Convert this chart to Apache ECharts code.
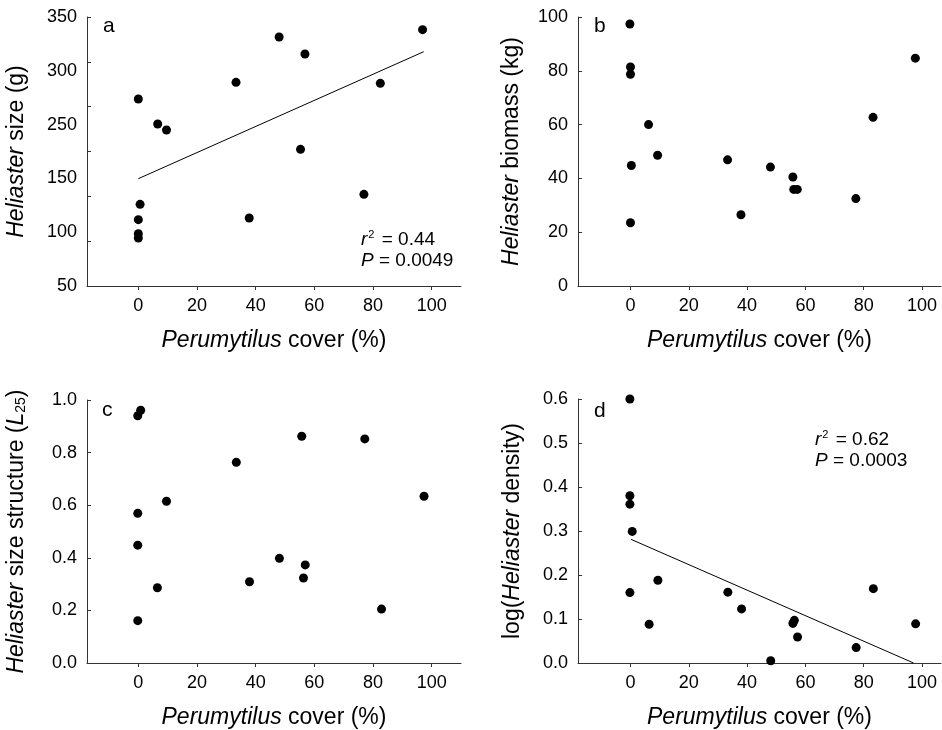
<!DOCTYPE html>
<html>
<head>
<meta charset="utf-8">
<script src="https://cdn.jsdelivr.net/npm/echarts@6/dist/echarts.min.js"></script>
<style>
  html, body { margin: 0; padding: 0; background: #fff; }
  #chart { width: 942px; height: 730px; }
</style>
</head>
<body>
<div id="chart"></div>
<script>
// x values, Perumytilus cover (%)
const coverA = [0, 0, 0, 0, 0.6, 6.6, 9.6, 33.3, 37.8, 48.0, 55.3, 56.8, 76.9, 82.5, 96.9];
const coverB = [-0.2, 0, 0, 0, 0.3, 6.2, 9.3, 33.3, 37.9, 48.0, 55.7, 56.0, 57.2, 77.3, 83.2, 97.7];
const coverC = [-0.2, -0.2, -0.2, -0.2, 0.8, 6.5, 9.6, 33.4, 37.9, 48.1, 55.7, 56.3, 56.9, 77.2, 82.9, 97.4];
const coverD = [-0.2, -0.2, -0.2, -0.2, 0.6, 6.4, 9.4, 33.4, 38.1, 48.1, 55.7, 56.2, 57.3, 77.4, 83.3, 97.8];

// y values
const sizeA = [258.6, 124, 108.4, 103.5, 141.1, 230.7, 224, 277.1, 125.8, 327.7, 202.4, 308.7, 152.2, 276, 335.9];
const biomassB = [97.4, 81.4, 78.7, 23.5, 44.8, 60.0, 48.6, 46.9, 26.5, 44.2, 40.5, 35.9, 35.9, 32.5, 62.7, 84.7];
const structC = [0.940, 0.569, 0.448, 0.161, 0.961, 0.286, 0.615, 0.763, 0.309, 0.398, 0.862, 0.323, 0.373, 0.852, 0.205, 0.634];
const densityD = [0.600, 0.380, 0.361, 0.160, 0.299, 0.088, 0.188, 0.161, 0.123, 0.005, 0.090, 0.097, 0.059, 0.035, 0.169, 0.089];

// regression lines (end points)
const fitA = [[0, 169.7], [97.3, 311.3]];
const fitD = [[0.2, 0.281], [97.1, 0.0]];

// tick labels
const xTicks = [0, 20, 40, 60, 80, 100];
const sizeLabelPos = [50, 110, 170, 230, 290, 350];
const sizeLabels = ['50', '100', '150', '250', '300', '350'];

const FONT = "'Liberation Sans', Arial, sans-serif";
const AXIS_COLOR = '#333';
const TITLE_SIZE = 23;
const TICK_SIZE = 18;

const chart = echarts.init(document.getElementById('chart'));

const grids = [
  { left: 87, right: 481, top: 17, bottom: 444 },
  { left: 578, right: 1, top: 17, bottom: 444 },
  { left: 87, right: 481, top: 400, bottom: 62 },
  { left: 578, right: 1, top: 399, bottom: 62 }
];

const italicRich = {
  i: { fontStyle: 'italic', fontFamily: FONT, fontSize: TITLE_SIZE, color: '#000' },
  sub: { fontStyle: 'normal', fontFamily: FONT, fontSize: 14, color: '#000', verticalAlign: 'bottom', padding: [9, 0, 0, 0] }
};

function xAxisFor(i, min, max) {
  return {
    gridIndex: i,
    type: 'value',
    min: min,
    max: max,
    name: '{i|Perumytilus} cover (%)',
    nameLocation: 'middle',
    nameGap: 43,
    nameTextStyle: { fontFamily: FONT, fontSize: TITLE_SIZE, color: '#000', rich: italicRich },
    axisLine: { show: true, onZero: false, lineStyle: { color: AXIS_COLOR, width: 1 } },
    axisTick: { show: true, inside: false, length: 4, customValues: xTicks, lineStyle: { color: AXIS_COLOR } },
    axisLabel: { customValues: xTicks, fontFamily: FONT, fontSize: TICK_SIZE, color: '#000', margin: 11 },
    splitLine: { show: false }
  };
}

function yAxisFor(i, name, min, max, interval, gap, label) {
  return {
    gridIndex: i,
    type: 'value',
    min: min,
    max: max,
    interval: interval,
    name: name,
    nameLocation: 'middle',
    nameGap: gap,
    nameTextStyle: { fontFamily: FONT, fontSize: TITLE_SIZE, color: '#000', rich: italicRich },
    axisLine: { show: true, onZero: false, lineStyle: { color: AXIS_COLOR, width: 1 } },
    axisTick: { show: true, inside: true, length: 4, lineStyle: { color: AXIS_COLOR } },
    axisLabel: Object.assign({ fontFamily: FONT, fontSize: TICK_SIZE, color: '#000', margin: 10 }, label || {}),
    splitLine: { show: false }
  };
}

function pairs(xs, ys) {
  return xs.map((x, k) => [x, ys[k]]);
}

function scatter(i, data) {
  return {
    type: 'scatter',
    xAxisIndex: i,
    yAxisIndex: i,
    data: data,
    symbol: 'circle',
    symbolSize: 9,
    clip: false,
    itemStyle: { color: '#000', opacity: 1 },
    silent: true
  };
}

function fitLine(i, data) {
  return {
    type: 'line',
    xAxisIndex: i,
    yAxisIndex: i,
    data: data,
    showSymbol: false,
    lineStyle: { color: '#000', width: 1 },
    silent: true
  };
}

const statRich = {
  i: { fontStyle: 'italic', fontFamily: FONT, fontSize: 19, fill: '#000' },
  n: { fontFamily: FONT, fontSize: 19, fill: '#000' },
  sup: { fontFamily: FONT, fontSize: 11, fill: '#000', verticalAlign: 'top', padding: [0, 2, 10, 1] }
};

function stat(left, top, r2, p) {
  return {
    type: 'text',
    left: left,
    top: top,
    style: {
      text: '{i|r}{sup|2}{n| = ' + r2 + '}\n{i|P}{n| = ' + p + '}',
      rich: statRich,
      lineHeight: 21,
      fill: '#000'
    }
  };
}

function letter(left, top, t) {
  return {
    type: 'text',
    left: left,
    top: top,
    style: { text: t, fontFamily: FONT, fontSize: 21, fill: '#000' }
  };
}

const option = {
  backgroundColor: '#fff',
  animation: false,
  grid: grids,
  xAxis: [
    xAxisFor(0, -17.5, 110),
    xAxisFor(1, -18, 106.5),
    xAxisFor(2, -17.5, 110),
    xAxisFor(3, -18, 106.5)
  ],
  yAxis: [
    yAxisFor(0, '{i|Heliaster} size (g)', 50, 350, 50, 59, {
      customValues: sizeLabelPos,
      formatter: (v) => sizeLabels[sizeLabelPos.indexOf(v)]
    }),
    yAxisFor(1, '{i|Heliaster} biomass (kg)', 0, 100, 20, 55),
    yAxisFor(2, '{i|Heliaster} size structure ({i|L}{sub|25})', 0, 1, 0.2, 59, {
      formatter: (v) => v.toFixed(1)
    }),
    yAxisFor(3, 'log({i|Heliaster} density)', 0, 0.6, 0.1, 54, {
      formatter: (v) => v.toFixed(1)
    })
  ],
  series: [
    scatter(0, pairs(coverA, sizeA)),
    fitLine(0, fitA),
    scatter(1, pairs(coverB, biomassB)),
    scatter(2, pairs(coverC, structC)),
    scatter(3, pairs(coverD, densityD)),
    fitLine(3, fitD)
  ],
  graphic: [
    letter(103, 16, 'a'),
    letter(594, 16, 'b'),
    letter(102, 400, 'c'),
    letter(594, 401, 'd'),
    stat(361, 229, '0.44', '0.0049'),
    stat(815, 429, '0.62', '0.0003')
  ]
};

chart.setOption(option);
</script>
</body>
</html>
